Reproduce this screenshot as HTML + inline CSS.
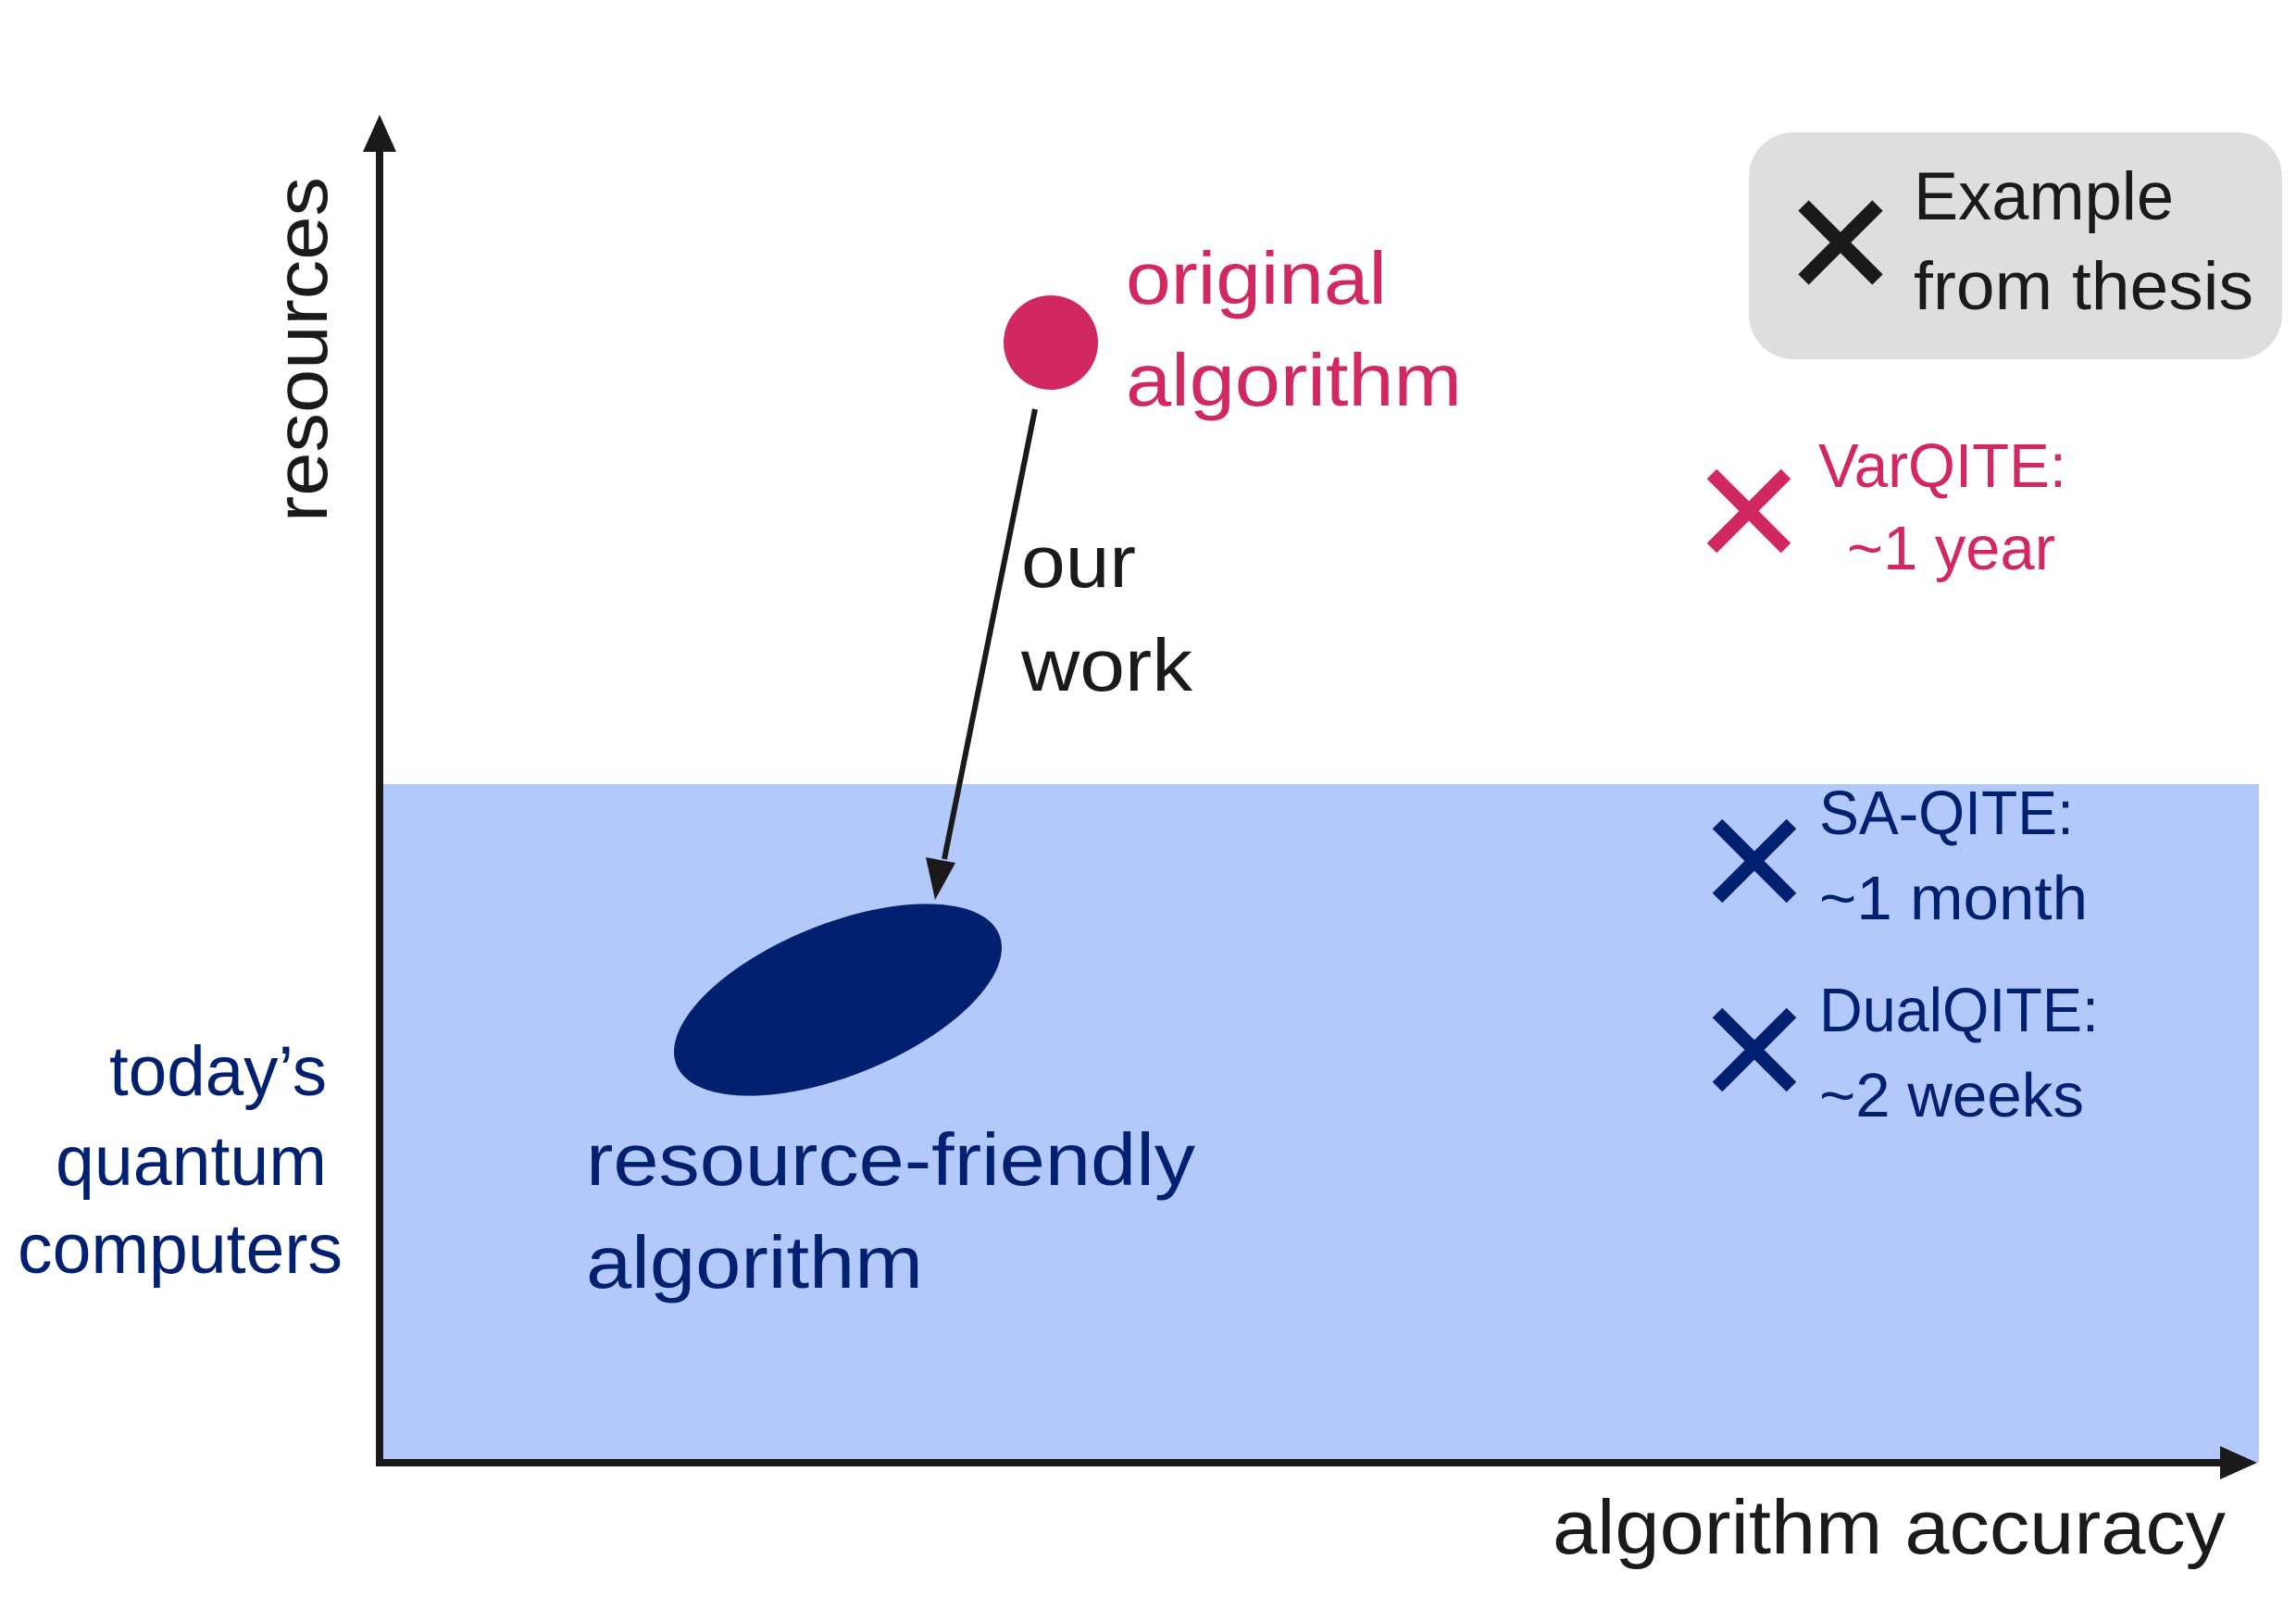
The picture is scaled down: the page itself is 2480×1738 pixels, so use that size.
<!DOCTYPE html>
<html><head><meta charset="utf-8"><style>html,body{margin:0;padding:0;background:#fff}svg{display:block}</style></head>
<body>
<svg width="2480" height="1738" viewBox="0 0 2480 1738" xmlns="http://www.w3.org/2000/svg" font-family="'Liberation Sans', sans-serif">
<rect x="410" y="847" width="2030" height="733" fill="#b3c9fb"/>
<rect x="1889" y="143" width="576" height="245" rx="48" fill="#dedede"/>
<!-- axes -->
<line x1="410" y1="1580" x2="410" y2="160" stroke="#1a1a1a" stroke-width="8"/>
<polygon points="410,124 392,164 428,164" fill="#1a1a1a"/>
<line x1="406" y1="1580" x2="2400" y2="1580" stroke="#1a1a1a" stroke-width="8"/>
<polygon points="2438,1580 2398,1562 2398,1598" fill="#1a1a1a"/>
<text x="353" y="564" transform="rotate(-90 353 564)" font-size="80" fill="#1a1a1a" textLength="373" lengthAdjust="spacingAndGlyphs">resources</text>
<!-- original -->
<circle cx="1135" cy="370" r="51" fill="#d0285f"/>
<text font-size="80" fill="#d0285f"><tspan x="1216" y="328" textLength="282" lengthAdjust="spacingAndGlyphs">original</tspan><tspan x="1216" y="438" textLength="363" lengthAdjust="spacingAndGlyphs">algorithm</tspan></text>
<line x1="1118" y1="442" x2="1020" y2="928" stroke="#1a1a1a" stroke-width="6"/>
<polygon points="1010,972 1000,926 1032,932" fill="#1a1a1a"/>
<text font-size="80" fill="#1a1a1a"><tspan x="1103" y="634" textLength="124" lengthAdjust="spacingAndGlyphs">our</tspan><tspan x="1103" y="746" textLength="185" lengthAdjust="spacingAndGlyphs">work</tspan></text>
<ellipse cx="905" cy="1080" rx="188" ry="82" transform="rotate(-22 905 1080)" fill="#012070"/>
<text font-size="80" fill="#012070"><tspan x="633" y="1280" textLength="658" lengthAdjust="spacingAndGlyphs">resource-friendly</tspan><tspan x="633" y="1391" textLength="364" lengthAdjust="spacingAndGlyphs">algorithm</tspan></text>
<text font-size="76" fill="#012070"><tspan x="118" y="1183" textLength="235" lengthAdjust="spacingAndGlyphs">today’s</tspan><tspan x="60" y="1280" textLength="293" lengthAdjust="spacingAndGlyphs">quantum</tspan><tspan x="19" y="1375" textLength="351" lengthAdjust="spacingAndGlyphs">computers</tspan></text>
<!-- legend -->
<g stroke="#1a1a1a" stroke-width="16"><line x1="1948" y1="222" x2="2028" y2="302"/><line x1="2028" y1="222" x2="1948" y2="302"/></g>
<text font-size="73" fill="#1a1a1a"><tspan x="2067" y="237" textLength="281" lengthAdjust="spacingAndGlyphs">Example</tspan><tspan x="2067" y="334" textLength="367" lengthAdjust="spacingAndGlyphs">from thesis</tspan></text>
<!-- markers -->
<g stroke="#d0285f" stroke-width="15"><line x1="1849" y1="512" x2="1929" y2="592"/><line x1="1929" y1="512" x2="1849" y2="592"/></g>
<text font-size="67" fill="#d0285f"><tspan x="1964" y="526" textLength="268" lengthAdjust="spacingAndGlyphs">VarQITE:</tspan><tspan x="1995" y="615" textLength="225" lengthAdjust="spacingAndGlyphs">~1 year</tspan></text>
<g stroke="#012070" stroke-width="15"><line x1="1855" y1="890" x2="1935" y2="970"/><line x1="1935" y1="890" x2="1855" y2="970"/></g>
<text font-size="67" fill="#012070"><tspan x="1965" y="901" textLength="275" lengthAdjust="spacingAndGlyphs">SA-QITE:</tspan><tspan x="1965" y="993" textLength="290" lengthAdjust="spacingAndGlyphs">~1 month</tspan></text>
<g stroke="#012070" stroke-width="15"><line x1="1855" y1="1094" x2="1935" y2="1174"/><line x1="1935" y1="1094" x2="1855" y2="1174"/></g>
<text font-size="67" fill="#012070"><tspan x="1965" y="1114" textLength="302" lengthAdjust="spacingAndGlyphs">DualQITE:</tspan><tspan x="1965" y="1206" textLength="286" lengthAdjust="spacingAndGlyphs">~2 weeks</tspan></text>
<text x="1677" y="1678" font-size="83" fill="#1a1a1a" textLength="727" lengthAdjust="spacingAndGlyphs">algorithm accuracy</text>
</svg>
</body></html>
